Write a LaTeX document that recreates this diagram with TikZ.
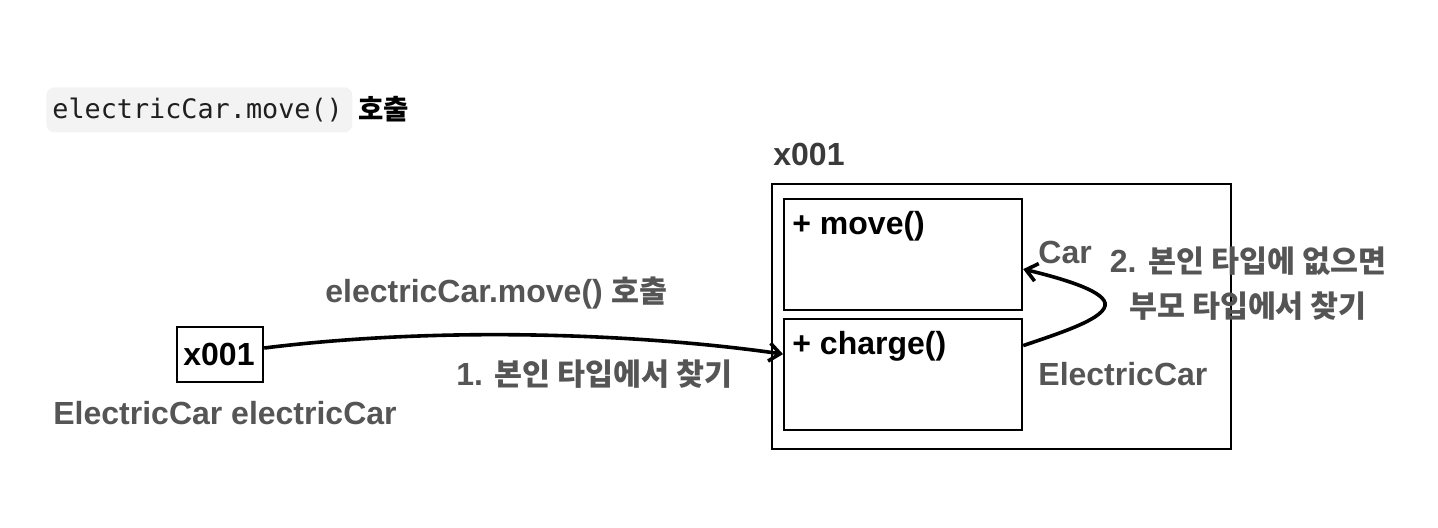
\documentclass[tikz,border=0pt]{standalone}
\usepackage{fontspec}
\setmainfont{Liberation Sans}
\newfontfamily\krfont{Noto Sans CJK KR}[Scale=0.95]
\newfontfamily\codefont{DejaVu Sans Mono}
\usetikzlibrary{arrows.meta}
\definecolor{lblgray}{HTML}{555555}
\definecolor{topgray}{HTML}{3A3A3A}
\definecolor{codebg}{HTML}{F3F3F4}
\newcommand\mylab{\fontsize{16}{19}\selectfont\bfseries}
\tikzset{
  box/.style={draw=black, line width=1.1pt, inner sep=0pt},
  lbl/.style={inner sep=0pt, text=lblgray, font=\mylab},
  blk/.style={inner sep=0pt, text=black, font=\mylab},
  arr/.style={line width=1.8pt, -{Straight Barb[length=5.5pt,width=9pt]}},
}
\begin{document}
\begin{tikzpicture}[x=0.5pt,y=-0.5pt]
\useasboundingbox (0,0) rectangle (1438,528);
% top code label
\node[fill=codebg, rounded corners=4pt, minimum width=153pt, minimum height=22.5pt, anchor=north west, inner sep=0pt] (codebox) at (46,87) {};
\node[anchor=base west, inner sep=0pt, font=\codefont\fontsize{13.4}{16}\selectfont, text=black!88] (code) at (52,119) {electricCar.move()};
\node[anchor=base west, inner sep=0pt, font=\krfont\fontsize{14.5}{18}\selectfont\bfseries] (call) at (358,120) {호출};
% object box
\node[box, minimum width=229.5pt, minimum height=132.5pt, anchor=north west] (outer) at (771,183) {};
\node[anchor=base west, inner sep=0pt, text=topgray, font=\mylab] (addr) at (773,166) {x001};
\node[box, minimum width=119pt, minimum height=55.5pt, anchor=north west] (inA) at (783,198) {};
\node[box, minimum width=119pt, minimum height=55.5pt, anchor=north west] (inB) at (783,318) {};
\node[blk, anchor=base west] (mv) at (792,235) {+ move()};
\node[blk, anchor=base west] (ch) at (792,355) {+ charge()};
\node[lbl, anchor=base west] (car) at (1038,264) {Car};
\node[lbl, anchor=base west] (ecar) at (1038,386) {ElectricCar};
\node[lbl, anchor=base] (l2a) at (1248,273) {2. {\krfont 본인 타입에 없으면}};
\node[lbl, anchor=base] (l2b) at (1248,318) {{\krfont 부모 타입에서 찾기}};
% reference variable
\node[box, minimum width=43pt, minimum height=27.5pt, anchor=north west] (ref) at (176,326) {};
\node[blk, anchor=base] (refx) at (219,366) {x001};
\node[lbl, anchor=base west] (refname) at (53,424) {ElectricCar electricCar};
\node[lbl, anchor=base west] (callname) at (325,303) {electricCar.move() {\krfont 호출}};
\node[lbl, anchor=base west] (step1) at (456,386) {1. {\krfont 본인 타입에서 찾기}};
% connectors
\draw[arr] (ref.east |- 0,348) .. controls (450,325) and (650,335) .. ([yshift=10.25pt]inB.west);
\draw[arr] ([yshift=14.5pt]inB.east) .. controls (1060,333) and (1108,318) .. (1105,303) .. controls (1102,290) and (1060,278) .. ([yshift=-7.25pt]inA.east);
\end{tikzpicture}
\end{document}
